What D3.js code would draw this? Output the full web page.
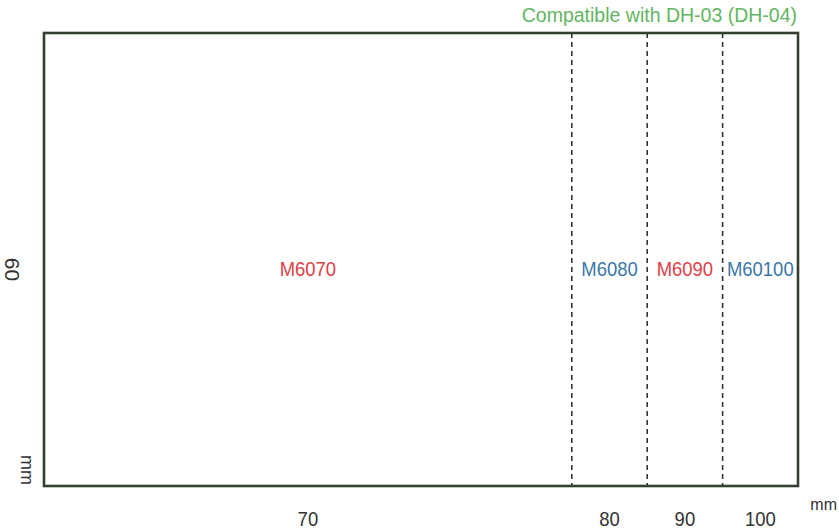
<!DOCTYPE html>
<html>
<head>
<meta charset="utf-8">
<script src="https://cdn.jsdelivr.net/npm/d3@7"></script>
<style>
  body { margin: 0; background: #fff; }
  text { font-family: "Liberation Sans", Arial, sans-serif; }
</style>
</head>
<body>
<svg width="839" height="532"></svg>
<script>
// sizes of the holder, in mm
var models = ["M6070", "M6080", "M6090", "M60100"];
var widthsMm = [70, 80, 90, 100];
var sizeLabels = ["70", "80", "90", "100"];
var heightMm = 60;
var modelColors = ["#de4148", "#3c77a8", "#de4148", "#3c77a8"];
var title = "Compatible with DH-03 (DH-04)";

var svg = d3.select("svg"),
  width = +svg.attr("width"),
  height = +svg.attr("height");

var x = d3.scaleLinear().domain([0, d3.max(widthsMm)]).range([44, 798]);
var y = d3.scaleLinear().domain([0, heightMm]).range([486, 33]);

var segs = widthsMm.map(function(w, i) {
  var start = i == 0 ? 0 : widthsMm[i - 1];
  return { name: models[i], label: sizeLabels[i], end: w, mid: (start + w) / 2, color: modelColors[i] };
});

// dashed separators
svg.append("g")
  .selectAll("line")
  .data(segs.slice(0, -1))
  .enter().append("line")
  .attr("x1", function(d) { return x(d.end); })
  .attr("x2", function(d) { return x(d.end); })
  .attr("y1", y(heightMm))
  .attr("y2", y(0))
  .attr("stroke", "#2f352f")
  .attr("stroke-width", 1.6)
  .attr("stroke-dasharray", "5,4");

// outer box
svg.append("rect")
  .attr("x", x(0))
  .attr("y", y(heightMm))
  .attr("width", x(d3.max(widthsMm)) - x(0))
  .attr("height", y(0) - y(heightMm))
  .attr("fill", "none")
  .attr("stroke", "#34402f")
  .attr("stroke-width", 2.6);

// model names
svg.append("g")
  .selectAll("text")
  .data(segs)
  .enter().append("text")
  .attr("transform", function(d) { return "translate(" + x(d.mid) + "," + (y(heightMm / 2) + 16) + ") scale(0.88,1)"; })
  .attr("text-anchor", "middle")
  .attr("font-size", 21)
  .attr("fill", function(d) { return d.color; })
  .text(function(d) { return d.name; });

// widths under the box
svg.append("g")
  .selectAll("text")
  .data(segs)
  .enter().append("text")
  .attr("transform", function(d) { return "translate(" + x(d.mid) + ",526) scale(0.88,1)"; })
  .attr("text-anchor", "middle")
  .attr("font-size", 21)
  .attr("fill", "#333")
  .text(function(d) { return d.label; });

svg.append("text")
  .attr("x", 837)
  .attr("y", 510)
  .attr("text-anchor", "end")
  .attr("font-size", 16)
  .attr("fill", "#333")
  .text("mm");

// height on the left, turned
svg.append("text")
  .attr("transform", "translate(5," + (y(heightMm / 2) + 10) + ") rotate(90)")
  .attr("text-anchor", "middle")
  .attr("font-size", 21)
  .attr("fill", "#333")
  .text(heightMm);

svg.append("text")
  .attr("transform", "translate(21,470) rotate(90)")
  .attr("text-anchor", "middle")
  .attr("font-size", 18)
  .attr("fill", "#333")
  .text("mm");

svg.append("text")
  .attr("x", x(d3.max(widthsMm)) - 1)
  .attr("y", 22)
  .attr("text-anchor", "end")
  .attr("font-size", 19.5)
  .attr("fill", "#62b562")
  .text(title);
</script>
</body>
</html>
